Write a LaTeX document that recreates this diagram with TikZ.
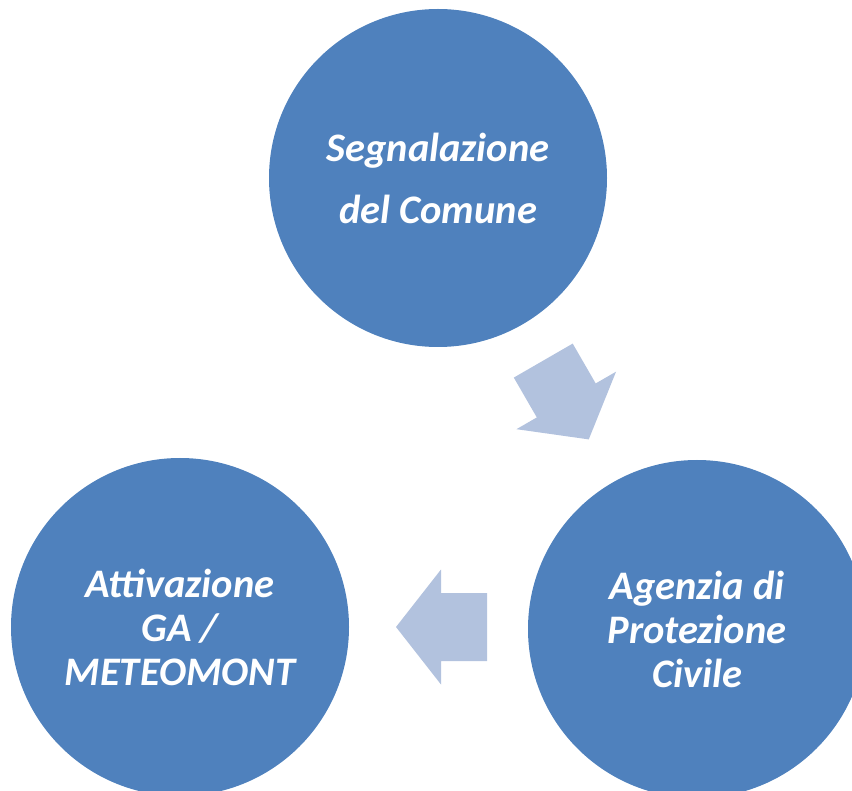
\documentclass[tikz,border=0pt]{standalone}
\usepackage{fontspec}
\setmainfont{Carlito}
\usetikzlibrary{positioning}

\definecolor{circleblue}{HTML}{4F81BD}
\definecolor{arrowblue}{HTML}{B2C2DE}

\tikzset{
    stage/.style={circle, fill=circleblue, minimum size=338pt, inner sep=0pt,
        text=white, align=center, font=\fontsize{40.5}{44}\selectfont\bfseries\itshape},
    flow/.pic={
        \fill[arrowblue] (-45.5,34) -- (0.5,34) -- (0.5,57.5) -- (45.5,0)
            -- (0.5,-57.5) -- (0.5,-34) -- (-45.5,-34) -- cycle;
    }
}

\begin{document}
\begin{tikzpicture}[x=1pt, y=1pt]
    \useasboundingbox (0,0) rectangle (852,-791);
    \node[stage] (segnalazione) at (438,-178) {Segnalazione\\[18pt]del Comune};
    \node[stage] (agenzia) at (697,-629) {Agenzia di\\Protezione\\Civile};
    \node[stage] (attivazione) at (180,-627) {Attivazione\\GA /\\METEOMONT};
    \pic[rotate=-60] (toagenzia) at (566,-400) {flow};
    \pic[rotate=180] (toattivazione) at (441.5,-627) {flow};
\end{tikzpicture}
\end{document}
